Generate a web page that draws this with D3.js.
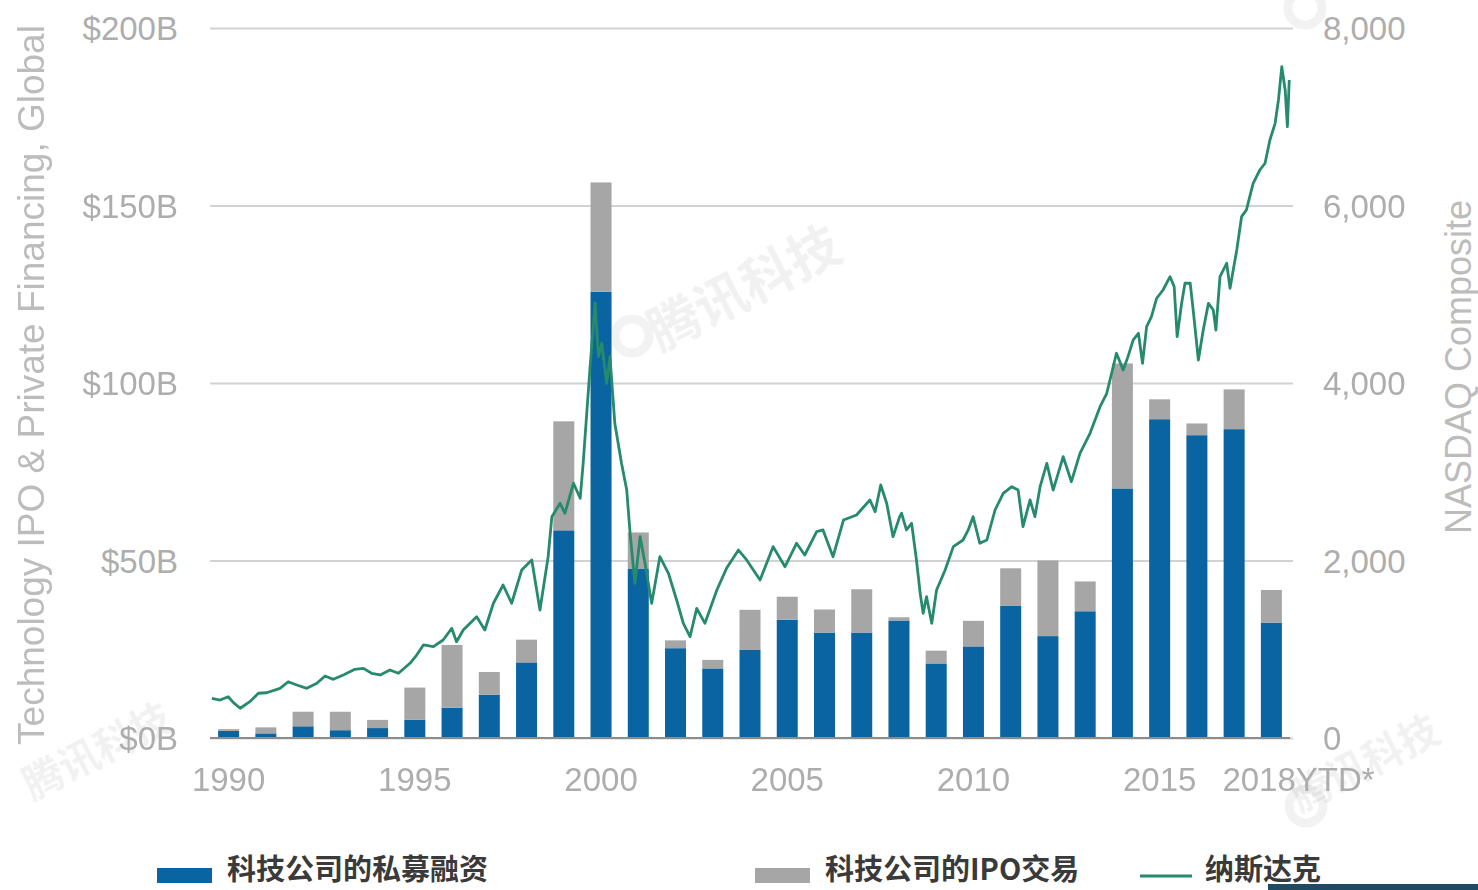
<!DOCTYPE html>
<html>
<head>
<meta charset="utf-8">
<script src="https://cdn.jsdelivr.net/npm/d3@7"></script>
<style>
  html, body { margin: 0; padding: 0; background: #fff; }
  svg { display: block; }
</style>
</head>
<body>
<svg id="chart" width="1478" height="890"></svg>
<script>
// ---- data ----
const years = [1990,1991,1992,1993,1994,1995,1996,1997,1998,1999,2000,2001,2002,2003,2004,2005,2006,2007,2008,2009,2010,2011,2012,2013,2014,2015,2016,2017,2018];
const privateFinancing = [2.0,1.3,3.3,2.2,2.8,5.1,8.5,12.2,21.3,58.5,125.7,47.6,25.3,19.6,24.8,33.3,29.7,29.7,33.1,21.0,25.8,37.2,28.7,35.7,70.3,89.8,85.3,87.0,32.5];
const ipoDeals = [0.5,1.7,4.1,5.2,2.3,9.1,17.7,6.4,6.4,30.7,30.8,10.3,2.2,2.4,11.3,6.5,6.5,12.2,0.9,3.6,7.2,10.6,21.3,8.4,35.2,5.6,3.3,11.2,9.2];
const yearTickValues = [1990,1995,2000,2005,2010,2015,2018];
const yearTickLabels = ["1990","1995","2000","2005","2010","2015","2018YTD*"];
const leftTicks = [0,50,100,150,200];
const rightTicks = [0,2000,4000,6000,8000];
const nasdaqDates = [1990.05,1990.27,1990.49,1990.63,1990.81,1991.07,1991.30,1991.52,1991.88,1992.10,1992.33,1992.60,1992.87,1993.09,1993.31,1993.58,1993.89,1994.12,1994.34,1994.57,1994.83,1995.06,1995.37,1995.55,1995.73,1996.00,1996.26,1996.49,1996.62,1996.80,1997.16,1997.38,1997.61,1997.87,1998.10,1998.37,1998.64,1998.72,1998.86,1999.08,
  1999.18,1999.40,1999.53,1999.76,1999.94,2000.02,2000.20,2000.34,2000.43,2000.52,2000.65,2000.74,2000.87,2001.05,2001.19,2001.28,2001.41,2001.55,2001.68,2001.86,2002.08,2002.31,2002.53,2002.71,2002.89,2003.07,2003.29,2003.61,2003.87,2004.19,2004.41,2004.77,2005.12,2005.44,2005.75,2005.97,2006.29,2006.46,2006.73,2007.01,2007.36,2007.72,2007.86,2008.01,2008.17,2008.34,2008.52,
  2008.57,2008.70,2008.84,2008.97,2009.07,2009.15,2009.24,2009.38,2009.51,2009.74,2009.96,2010.22,2010.36,2010.49,2010.67,2010.86,2011.08,2011.30,2011.53,2011.70,2011.83,2012.02,2012.15,2012.29,2012.47,2012.64,2012.91,2013.13,2013.36,2013.63,2013.90,2014.08,2014.34,2014.52,2014.65,2014.79,2014.93,2015.04,2015.15,2015.28,2015.42,2015.59,2015.78,2015.89,2015.97,2016.09,2016.18,2016.32,2016.40,2016.54,2016.67,2016.81,2016.94,2017.01,2017.12,2017.30,2017.39,2017.57,2017.70,2017.83,2018.01,2018.19,2018.33,2018.46,2018.60,2018.69,2018.78,2018.87,2018.93,2018.98];
const nasdaqValues = [447,428,465,398,335,409,504,510,560,634,597,560,616,699,661,710,774,785,729,710,766,729,842,935,1048,1029,1104,1236,1085,1217,1367,1217,1518,1724,1518,1893,2006,1800,1442,2043,
  2494,2645,2532,2870,2701,3095,4147,4900,4297,4448,3997,4297,3546,3095,2794,2307,1743,2268,1968,1518,2043,1856,1555,1292,1141,1461,1292,1668,1912,2118,2006,1780,2156,1930,2194,2062,2325,2344,2043,2456,2513,2682,2550,2851,2645,2268,2494,
  2532,2344,2419,2006,1630,1405,1592,1292,1668,1893,2156,2231,2344,2494,2194,2231,2569,2757,2832,2794,2381,2682,2494,2832,3095,2794,3170,2888,3208,3433,3733,3884,4335,4147,4297,4485,4560,4222,4635,4747,4955,5048,5198,5085,4522,4898,5124,5124,4823,4259,4597,4898,4823,4597,5198,5349,5067,5499,5874,5950,6250,6400,6476,6738,6926,7189,7564,7302,6888,7414];
const legendLabels = ["科技公司的私募融资","科技公司的IPO交易","纳斯达克"];
const leftTitle = "Technology IPO & Private Financing, Global";
const rightTitle = "NASDAQ Composite";
const watermark = "腾讯科技";

// ---- styles ----
const BLUE = "#0a64a1", GRAY = "#a6a6a6", GREEN = "#268a6c";
const FONT = "'Liberation Sans', Arial, Helvetica, sans-serif";
const CJK = "'Noto Sans CJK SC', 'Noto Sans', sans-serif";

const svg = d3.select("#chart");
const L = 210, R = 1290, T = 28, B = 738;

// watermarks (behind)
const wm = svg.append("g").attr("fill", "#000").attr("opacity", 0.055).style("font-family", CJK).style("font-weight", "bold");
[[660, 352, 52], [32, 800, 40], [1300, 812, 40]].forEach(([x, y, s]) => {
  wm.append("text").attr("transform", `translate(${x},${y}) rotate(-27)`).attr("font-size", s).text(watermark);
});
svg.append("circle").attr("cx", 632).attr("cy", 336).attr("r", 17).attr("fill", "none").attr("stroke", "#000").attr("stroke-width", 9).attr("opacity", 0.05);
svg.append("circle").attr("cx", 1306).attr("cy", 806).attr("r", 17).attr("fill", "none").attr("stroke", "#000").attr("stroke-width", 9).attr("opacity", 0.05);
svg.append("circle").attr("cx", 1305).attr("cy", 8).attr("r", 17).attr("fill", "none").attr("stroke", "#000").attr("stroke-width", 9).attr("opacity", 0.05);

// scales
const x = d3.scaleBand().domain(years).range([L, R]).paddingInner(0.436).paddingOuter(0.218);
const xt = d3.scaleLinear().domain([1990, 2019]).range([L, R]);
const yL = d3.scaleLinear().domain([0, 200]).range([B, T]);
const yR = d3.scaleLinear().domain([0, 8000]).range([B, T]);

// left axis + gridlines
const gL = svg.append("g").attr("transform", `translate(${L},0)`)
  .call(d3.axisLeft(yL).tickValues(leftTicks).tickSize(-(R - L + 3)).tickPadding(32).tickFormat(d => "$" + d + "B"));
gL.select(".domain").remove();
gL.selectAll(".tick line").attr("stroke", "#d2d2d2").attr("stroke-width", 2);
gL.selectAll(".tick text").attr("fill", "#adadad").style("font-family", FONT).style("font-size", "33px").attr("dy", "0.35em");

// right axis labels
const gR = svg.append("g").attr("transform", `translate(${R + 30},0)`)
  .call(d3.axisRight(yR).tickValues(rightTicks).tickSize(0).tickFormat(d3.format(",")));
gR.select(".domain").remove();
gR.selectAll(".tick text").attr("fill", "#adadad").style("font-family", FONT).style("font-size", "33px").attr("dy", "0.35em");

// stacked bars
const stackData = years.map((yr, i) => ({ year: yr, priv: privateFinancing[i], ipo: ipoDeals[i] }));
const series = d3.stack().keys(["priv", "ipo"])(stackData);
const colors = { priv: BLUE, ipo: GRAY };
svg.append("g").selectAll("g").data(series).join("g").attr("fill", s => colors[s.key])
  .selectAll("rect").data(s => s).join("rect")
  .attr("x", d => x(d.data.year)).attr("width", x.bandwidth())
  .attr("y", d => yL(d[1])).attr("height", d => yL(d[0]) - yL(d[1]));

// baseline
svg.append("line").attr("x1", L).attr("x2", R).attr("y1", B).attr("y2", B).attr("stroke", "#8c8c8c").attr("stroke-width", 2);

// nasdaq line
const lineData = nasdaqDates.map((d, i) => [d, nasdaqValues[i]]);
svg.append("path").datum(lineData)
  .attr("fill", "none").attr("stroke", GREEN).attr("stroke-width", 2.8).attr("stroke-linejoin", "round")
  .attr("d", d3.line().x(d => xt(d[0])).y(d => yR(d[1])));

// bottom axis
const gB = svg.append("g").attr("transform", `translate(0,${B})`)
  .call(d3.axisBottom(x).tickValues(yearTickValues).tickSize(0).tickPadding(30)
    .tickFormat(d => yearTickLabels[yearTickValues.indexOf(d)]));
gB.select(".domain").remove();
gB.selectAll(".tick text").attr("fill", "#adadad").style("font-family", FONT).style("font-size", "33px");
gB.selectAll(".tick text").filter(d => d === 2018).attr("text-anchor", "start").attr("x", -49);

// axis titles
svg.append("text").attr("transform", `translate(44,385) rotate(-90)`).attr("text-anchor", "middle")
  .attr("fill", "#bcbcbc").style("font-family", FONT).style("font-size", "37px").text(leftTitle);
svg.append("text").attr("transform", `translate(1471,367) rotate(-90)`).attr("text-anchor", "middle")
  .attr("fill", "#bcbcbc").style("font-family", FONT).style("font-size", "36px").text(rightTitle);

// legend
const lg = svg.append("g");
const items = [
  { x: 157, type: "rect", color: BLUE, label: legendLabels[0] },
  { x: 755, type: "rect", color: GRAY, label: legendLabels[1] },
  { x: 1140, type: "line", color: GREEN, label: legendLabels[2] }
];
items.forEach(it => {
  if (it.type === "rect") {
    lg.append("rect").attr("x", it.x).attr("y", 868).attr("width", 55).attr("height", 15).attr("fill", it.color);
  } else {
    lg.append("line").attr("x1", it.x).attr("x2", it.x + 52).attr("y1", 876).attr("y2", 876).attr("stroke", it.color).attr("stroke-width", 3);
  }
  lg.append("text").attr("x", it.x + (it.type === "rect" ? 70 : 65)).attr("y", 880)
    .attr("fill", "#3a3a3a").style("font-family", CJK).style("font-size", "29px").style("font-weight", "bold").text(it.label);
});
// dark strip at bottom right
svg.append("rect").attr("x", 1268).attr("y", 884).attr("width", 210).attr("height", 6).attr("fill", "#1f4a62");
</script>
</body>
</html>
